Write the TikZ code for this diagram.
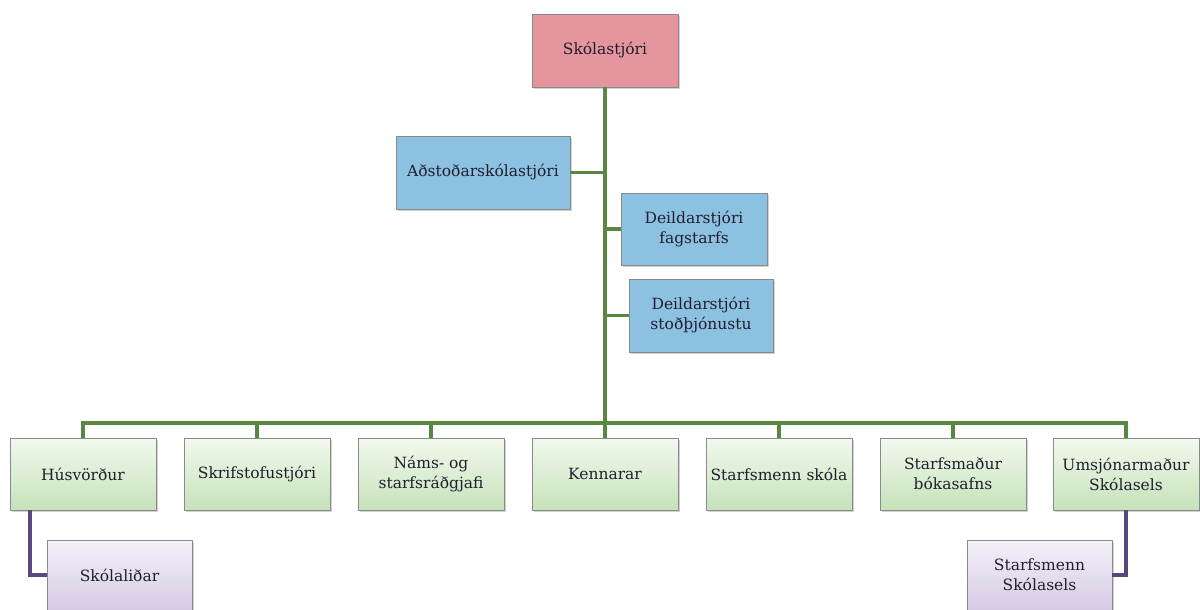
\documentclass[tikz,border=0pt]{standalone}
\usepackage{fontspec}
\setmainfont{DejaVu Serif}
\usetikzlibrary{shadows}
\definecolor{pinkfill}{HTML}{E5959D}
\definecolor{bluefill}{HTML}{8CC1E1}
\definecolor{greentop}{HTML}{F2F9EE}
\definecolor{greenbot}{HTML}{C6E2BA}
\definecolor{purpletop}{HTML}{F4F1F8}
\definecolor{purplebot}{HTML}{D5CBE4}
\definecolor{boxline}{HTML}{8A8A8A}
\definecolor{greenline}{HTML}{5A873F}
\definecolor{purpleline}{HTML}{57497A}
\definecolor{txt}{HTML}{1F1F2E}
\tikzset{
  orgbox/.style={draw=boxline, line width=0.8pt, align=center, text=txt,
    font=\fontsize{15.5}{20}\selectfont, inner sep=1pt,
    drop shadow={shadow xshift=1.5pt, shadow yshift=-1.8pt, opacity=0.35}},
  pinkbox/.style={orgbox, fill=pinkfill},
  bluebox/.style={orgbox, fill=bluefill},
  greenbox/.style={orgbox, top color=greentop, bottom color=greenbot, minimum width=146pt, minimum height=72pt},
  purplebox/.style={orgbox, top color=purpletop, bottom color=purplebot, minimum width=145pt, minimum height=70pt},
  gline/.style={draw=greenline, line width=3.8pt},
  pline/.style={draw=purpleline, line width=3.8pt},
}
\begin{document}
\begin{tikzpicture}[x=1pt,y=-1pt]
\path[use as bounding box, fill=white] (0,0) rectangle (1200,610);
\clip (0,0) rectangle (1200,610);
% nodes
\node[pinkbox, minimum width=146pt, minimum height=73pt] (sk) at (605,50.5) {Skólastjóri};
\node[bluebox, minimum width=174pt, minimum height=73pt] (ad) at (483,172.5) {Aðstoðarskólastjóri};
\node[bluebox, minimum width=146pt, minimum height=72pt] (fag) at (694,229) {Deildarstjóri\\fagstarfs};
\node[bluebox, minimum width=144pt, minimum height=73pt] (sto) at (701,315.5) {Deildarstjóri\\stoðþjónustu};
\node[greenbox] (b1) at (83,474) {Húsvörður};
\node[greenbox] (b2) at (257,474) {Skrifstofustjóri};
\node[greenbox] (b3) at (431,474) {Náms- og\\starfsráðgjafi};
\node[greenbox] (b4) at (605,474) {Kennarar};
\node[greenbox] (b5) at (779,474) {Starfsmenn skóla};
\node[greenbox] (b6) at (953,474) {Starfsmaður\\bókasafns};
\node[greenbox] (b7) at (1126,474) {Umsjónarmaður\\Skólasels};
\node[purplebox] (sl) at (119.5,575) {Skólaliðar};
\node[purplebox] (ss) at (1039.5,575) {Starfsmenn\\Skólasels};
% connectors
\coordinate (hub) at (605,423);
\draw[gline] (sk.south) -- (hub);
\draw[gline] (hub) -| (b1.north);
\draw[gline] (hub) -| (b2.north);
\draw[gline] (hub) -| (b3.north);
\draw[gline] (hub) -- (b4.north);
\draw[gline] (hub) -| (b5.north);
\draw[gline] (hub) -| (b6.north);
\draw[gline] (hub) -| (b7.north);
\draw[gline] (ad.east) -- (ad.east -| sk.south);
\draw[gline] (fag.west) -- (fag.west -| sk.south);
\draw[gline] (sto.west) -- (sto.west -| sk.south);
\draw[pline] ([xshift=-53pt]b1.south) |- (sl.west);
\draw[pline] (b7.south) |- (ss.east);
\end{tikzpicture}
\end{document}
